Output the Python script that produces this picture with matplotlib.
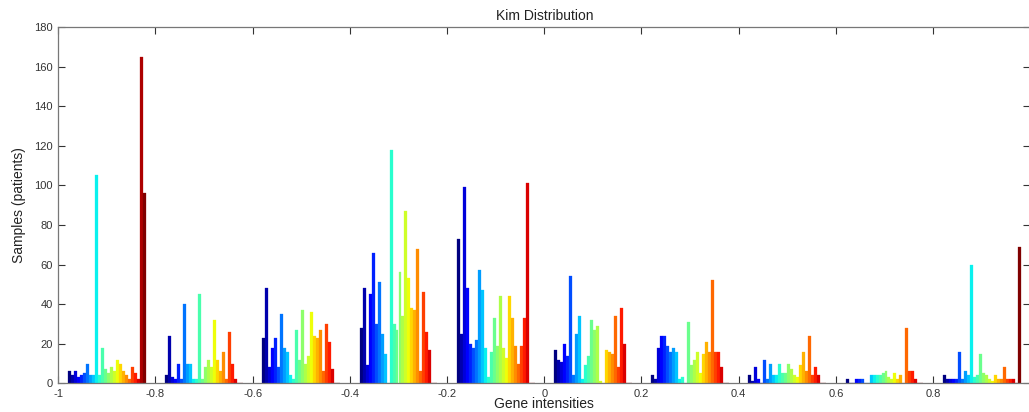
import numpy as np
import matplotlib
matplotlib.use('agg')
import matplotlib.pyplot as plt

plt.rcParams['font.family'] = ['Liberation Sans', 'DejaVu Sans']

# bin centres of the histogram and the counts per series in each bin
bin_centers = [-0.9, -0.7, -0.5, -0.3, -0.1, 0.1, 0.3, 0.5, 0.7, 0.9]

bin_m09 = [6, 4, 6, 3, 4, 5, 10, 4, 4, 105, 4, 18, 7, 5, 8, 6, 12, 10, 6, 4, 2, 8, 5, 2, 165, 96]
bin_m07 = [4, 24, 3, 2, 10, 2, 40, 10, 10, 2, 2, 45, 2, 8, 12, 8, 32, 12, 6, 16, 2, 26, 10, 2, 0, 0]
bin_m05 = [23, 48, 8, 18, 23, 8, 35, 18, 16, 4, 2, 27, 12, 37, 10, 14, 36, 24, 23, 27, 6, 30, 21, 7, 0, 0]
bin_m03 = [28, 48, 9, 45, 66, 30, 51, 25, 15, 0, 118, 30, 27, 56, 34, 87, 53, 38, 37, 68, 6, 46, 26, 17, 0, 0]
bin_m01 = [73, 25, 99, 48, 20, 18, 22, 57, 47, 18, 3, 16, 33, 19, 44, 18, 13, 44, 33, 19, 10, 19, 33, 101, 0, 0]
bin_p01 = [17, 12, 11, 20, 14, 54, 4, 25, 34, 2, 9, 14, 32, 27, 29, 1, 0, 17, 16, 15, 34, 8, 38, 20, 0, 0]
bin_p03 = [4, 2, 18, 24, 24, 19, 16, 18, 16, 2, 3, 0, 31, 9, 12, 16, 5, 15, 21, 16, 52, 16, 16, 8, 0, 0]
bin_p05 = [4, 1, 8, 2, 0, 12, 2, 10, 4, 4, 10, 5, 5, 10, 7, 4, 3, 9, 16, 6, 24, 4, 8, 4, 0, 0]
bin_p07 = [2, 0, 0, 2, 2, 2, 0, 0, 4, 4, 4, 4, 5, 6, 3, 2, 5, 2, 4, 0, 28, 6, 6, 2, 0, 0]
bin_p09 = [4, 2, 2, 2, 2, 16, 2, 6, 4, 60, 3, 4, 15, 5, 4, 2, 1, 4, 2, 2, 8, 2, 2, 2, 0, 69]

counts = np.array([bin_m09, bin_m07, bin_m05, bin_m03, bin_m01,
                   bin_p01, bin_p03, bin_p05, bin_p07, bin_p09])
n_series = counts.shape[1]

W, H = 1029, 412
fig = plt.figure(figsize=(W / 100, H / 100), dpi=100)
ax = fig.add_axes([58.3 / W, 28.7 / H, 972.0 / W, 356.3 / H])

group_w = 0.16
bar_w = group_w / n_series
centers = np.array(bin_centers)
for i in range(n_series):
    col = plt.cm.jet(i / (n_series - 1))
    xs = centers + (i - (n_series - 1) / 2) * bar_w
    ax.bar(xs, counts[:, i], width=bar_w, color=col, edgecolor=col, linewidth=0.2)

ax.set_xlim(-1, 1)
ax.set_ylim(0, 180)
ax.set_xticks(np.arange(-1, 1.01, 0.2))
ax.set_xticklabels(['-1', '-0.8', '-0.6', '-0.4', '-0.2', '0', '0.2', '0.4', '0.6', '0.8', ''])
ax.set_yticks(np.arange(0, 181, 20))
ax.tick_params(direction='in', length=5, width=0.8, top=True, right=True,
               labelsize=8, colors='#333333', pad=4)
for s in ax.spines.values():
    s.set_color('#777777')
    s.set_linewidth(0.9)

ax.set_title('Kim Distribution', fontsize=10, color='#222222', pad=5)
ax.set_xlabel('Gene intensities', fontsize=10, color='#222222', labelpad=-1)
ax.set_ylabel('Samples (patients)', fontsize=10, color='#222222', labelpad=6)

fig.savefig('out.png', dpi=100)
